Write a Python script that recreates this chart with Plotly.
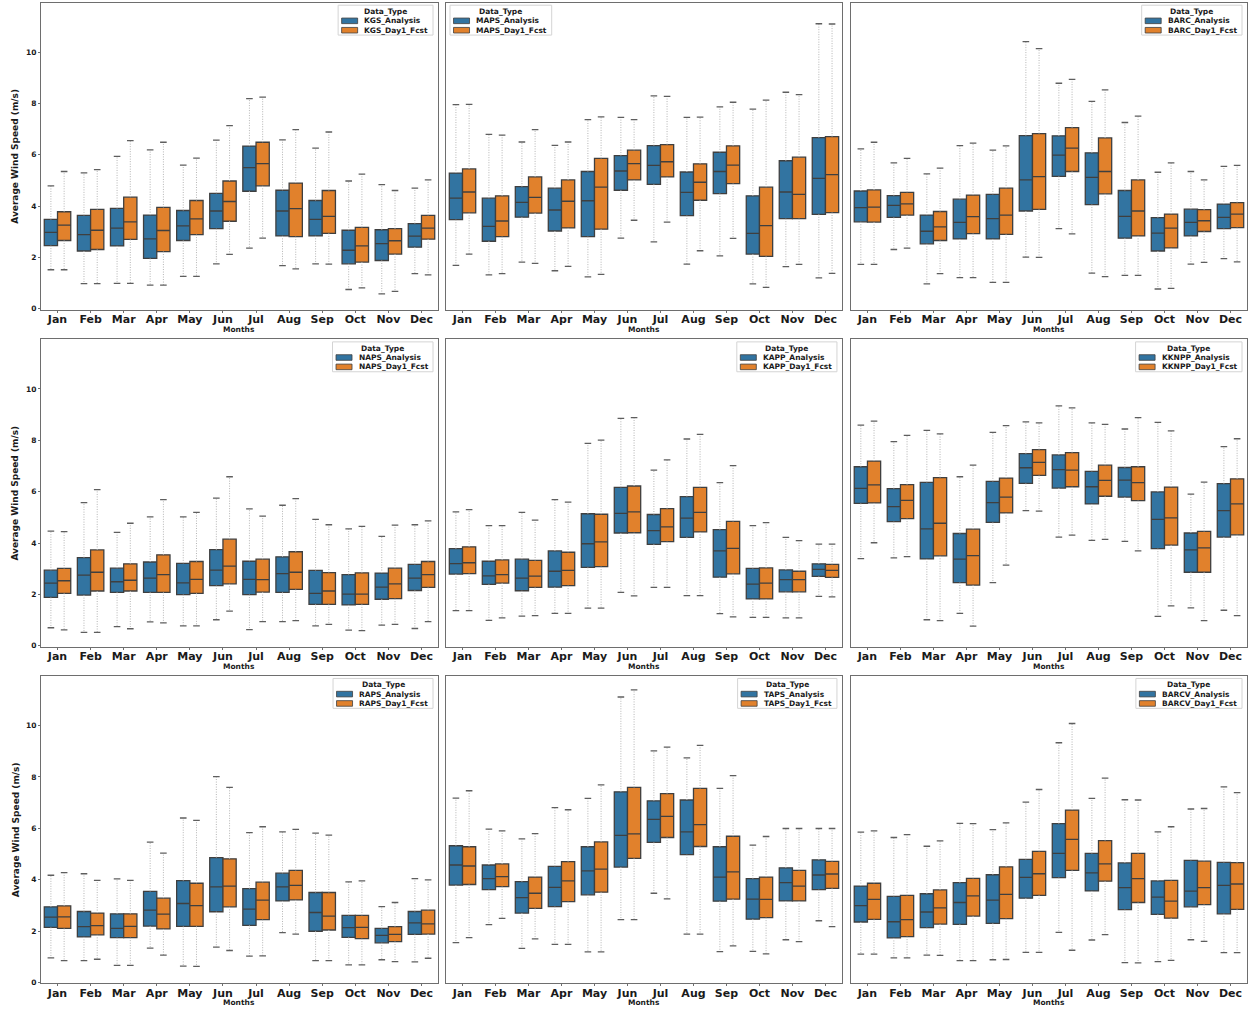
import plotly.graph_objects as go

W, H = 1249, 1012

months = ["Jan", "Feb", "Mar", "Apr", "May", "Jun",
          "Jul", "Aug", "Sep", "Oct", "Nov", "Dec"]

# Monthly box statistics of average wind speed (m/s) per site:
# upper / lower whisker ends, quartiles and median.
kgs_analysis = dict(
    upper=[4.79, 5.30, 5.94, 6.19, 5.60, 6.57, 8.19, 6.58, 6.26, 4.98, 4.84, 4.70],
    q3=[3.48, 3.64, 3.91, 3.65, 3.83, 4.50, 6.34, 4.62, 4.22, 3.06, 3.08, 3.32],
    median=[2.98, 2.89, 3.14, 2.72, 3.23, 3.81, 5.50, 3.81, 3.48, 2.28, 2.54, 2.83],
    q1=[2.46, 2.25, 2.45, 1.96, 2.66, 3.12, 4.58, 2.84, 2.84, 1.75, 1.88, 2.40],
    lower=[1.52, 0.98, 0.99, 0.92, 1.26, 1.75, 2.36, 1.68, 1.75, 0.75, 0.58, 1.37],
)
kgs_fcst = dict(
    upper=[5.35, 5.42, 6.55, 6.49, 5.87, 7.14, 8.25, 6.98, 6.89, 5.25, 4.61, 5.02],
    q3=[3.78, 3.87, 4.35, 3.95, 4.22, 4.98, 6.49, 4.90, 4.61, 3.17, 3.12, 3.64],
    median=[3.26, 3.06, 3.39, 3.05, 3.50, 4.18, 5.66, 3.90, 3.60, 2.45, 2.65, 3.14],
    q1=[2.66, 2.31, 2.70, 2.23, 2.89, 3.41, 4.79, 2.81, 2.94, 1.82, 2.13, 2.71],
    lower=[1.52, 0.98, 0.99, 0.92, 1.26, 2.12, 2.75, 1.55, 1.74, 0.81, 0.68, 1.32],
)
maps_analysis = dict(
    upper=[7.96, 6.80, 6.50, 6.37, 7.37, 7.46, 8.30, 7.46, 7.87, 7.78, 8.44, 11.11],
    q3=[5.29, 4.31, 4.76, 4.70, 5.35, 5.97, 6.36, 5.33, 6.10, 4.40, 5.77, 6.67],
    median=[4.31, 3.21, 4.15, 3.85, 4.21, 5.37, 5.59, 4.54, 5.35, 2.94, 4.55, 5.08],
    q1=[3.47, 2.63, 3.57, 3.03, 2.81, 4.62, 4.85, 3.63, 4.49, 2.13, 3.51, 3.68],
    lower=[1.69, 1.32, 1.82, 1.48, 1.24, 2.75, 2.61, 1.74, 2.06, 0.97, 1.64, 1.20],
)
maps_fcst = dict(
    upper=[7.97, 6.77, 6.98, 6.50, 7.48, 7.37, 8.28, 7.47, 8.05, 8.13, 8.35, 11.10],
    q3=[5.45, 4.40, 5.14, 5.02, 5.86, 6.18, 6.40, 5.65, 6.35, 4.74, 5.91, 6.71],
    median=[4.55, 3.42, 4.34, 4.19, 4.74, 5.66, 5.73, 4.93, 5.60, 3.24, 4.46, 5.23],
    q1=[3.74, 2.81, 3.73, 3.15, 3.10, 5.02, 5.14, 4.23, 4.88, 2.04, 3.51, 3.75],
    lower=[2.13, 1.37, 1.77, 1.65, 1.34, 3.45, 3.38, 2.26, 2.74, 0.83, 1.73, 1.38],
)
barc_analysis = dict(
    upper=[6.23, 5.69, 5.26, 6.36, 6.18, 10.41, 8.79, 8.08, 7.26, 5.32, 5.35, 5.55],
    q3=[4.59, 4.41, 3.65, 4.27, 4.46, 6.75, 6.74, 6.08, 4.61, 3.55, 3.88, 4.08],
    median=[3.94, 4.03, 3.02, 3.37, 3.51, 5.02, 5.99, 5.12, 3.60, 2.95, 3.37, 3.56],
    q1=[3.39, 3.56, 2.53, 2.72, 2.72, 3.81, 5.16, 4.06, 2.75, 2.25, 2.84, 3.12],
    lower=[1.73, 2.31, 0.97, 1.21, 1.03, 2.01, 3.12, 1.39, 1.30, 0.77, 1.74, 1.95],
)
barc_fcst = dict(
    upper=[6.49, 5.86, 5.48, 6.46, 6.35, 10.14, 8.94, 8.53, 7.51, 5.69, 5.02, 5.59],
    q3=[4.63, 4.54, 3.79, 4.43, 4.70, 6.83, 7.06, 6.66, 5.02, 3.69, 3.86, 4.14],
    median=[3.96, 4.09, 3.19, 3.59, 3.65, 5.15, 6.26, 5.35, 3.81, 3.14, 3.43, 3.69],
    q1=[3.38, 3.65, 2.66, 2.93, 2.90, 3.87, 5.35, 4.48, 2.84, 2.37, 3.01, 3.16],
    lower=[1.73, 2.36, 1.37, 1.21, 1.03, 2.00, 2.92, 1.25, 1.30, 0.79, 1.81, 1.83],
)
naps_analysis = dict(
    upper=[4.46, 5.57, 4.41, 5.02, 5.02, 5.75, 5.33, 5.47, 4.92, 4.55, 4.26, 4.71],
    q3=[2.94, 3.43, 3.02, 3.26, 3.21, 3.74, 3.29, 3.46, 2.93, 2.77, 2.83, 3.17],
    median=[2.44, 2.75, 2.49, 2.63, 2.45, 2.94, 2.58, 2.81, 2.04, 2.01, 2.28, 2.63],
    q1=[1.88, 1.97, 2.08, 2.08, 1.99, 2.34, 1.99, 2.08, 1.61, 1.59, 1.81, 2.15],
    lower=[0.70, 0.52, 0.74, 0.93, 0.77, 1.01, 0.63, 0.94, 0.77, 0.61, 0.80, 0.67],
)
naps_fcst = dict(
    upper=[4.44, 6.08, 4.77, 5.69, 5.19, 6.58, 5.05, 5.73, 4.71, 4.65, 4.70, 4.86],
    q3=[3.01, 3.73, 3.19, 3.54, 3.28, 4.15, 3.37, 3.66, 2.85, 2.84, 3.02, 3.28],
    median=[2.53, 2.86, 2.55, 2.77, 2.58, 3.10, 2.57, 2.86, 2.13, 2.01, 2.41, 2.77],
    q1=[2.04, 2.13, 2.13, 2.08, 2.04, 2.41, 2.09, 2.19, 1.61, 1.61, 1.83, 2.27],
    lower=[0.62, 0.52, 0.66, 0.89, 0.77, 1.35, 0.94, 0.98, 0.83, 0.59, 0.83, 0.94],
)
kapp_analysis = dict(
    upper=[5.21, 4.68, 5.19, 5.69, 7.88, 8.85, 6.84, 8.05, 6.35, 4.68, 4.22, 3.96],
    q3=[3.78, 3.29, 3.37, 3.69, 5.14, 6.17, 5.11, 5.81, 4.52, 3.01, 2.95, 3.19],
    median=[3.20, 2.72, 2.63, 2.90, 3.97, 5.15, 4.48, 4.97, 3.69, 2.40, 2.57, 2.97],
    q1=[2.79, 2.39, 2.14, 2.28, 3.05, 4.39, 3.95, 4.22, 2.67, 1.82, 2.10, 2.70],
    lower=[1.37, 0.99, 1.15, 1.26, 1.46, 2.08, 2.27, 1.95, 1.25, 1.10, 1.08, 1.92],
)
kapp_fcst = dict(
    upper=[5.30, 4.68, 4.89, 5.59, 8.01, 8.88, 7.24, 8.23, 7.01, 4.79, 4.09, 3.96],
    q3=[3.85, 3.34, 3.32, 3.64, 5.12, 6.22, 5.34, 6.17, 4.84, 3.03, 2.90, 3.17],
    median=[3.23, 2.77, 2.71, 2.93, 4.04, 5.21, 4.63, 5.19, 3.79, 2.44, 2.57, 2.93],
    q1=[2.81, 2.44, 2.27, 2.34, 3.08, 4.40, 4.05, 4.43, 2.80, 1.82, 2.10, 2.66],
    lower=[1.37, 1.08, 1.17, 1.26, 1.46, 1.94, 2.27, 1.95, 1.12, 1.10, 1.08, 1.90],
)
kknpp_analysis = dict(
    upper=[8.59, 7.95, 8.39, 6.58, 8.31, 8.72, 9.34, 8.68, 8.44, 8.70, 5.90, 7.75],
    q3=[6.97, 6.12, 6.36, 4.37, 6.40, 7.48, 7.43, 6.79, 6.94, 5.99, 4.39, 6.31],
    median=[6.13, 5.42, 4.55, 3.37, 5.57, 6.93, 6.86, 6.19, 6.45, 4.92, 3.73, 5.26],
    q1=[5.54, 4.83, 3.38, 2.46, 4.80, 6.32, 6.14, 5.52, 5.79, 3.78, 2.86, 4.23],
    lower=[3.39, 3.42, 1.01, 1.26, 2.46, 5.26, 4.23, 4.10, 4.06, 1.14, 1.47, 1.38],
)
kknpp_fcst = dict(
    upper=[8.75, 8.19, 8.25, 7.03, 8.57, 8.68, 9.26, 8.62, 8.88, 8.37, 6.37, 8.06],
    q3=[7.19, 6.27, 6.55, 4.54, 6.53, 7.64, 7.52, 7.03, 6.97, 6.18, 4.45, 6.50],
    median=[6.26, 5.66, 4.77, 3.51, 5.79, 7.14, 6.84, 6.44, 6.35, 4.98, 3.81, 5.52],
    q1=[5.56, 4.95, 3.50, 2.36, 5.17, 6.63, 6.19, 5.82, 5.65, 3.92, 2.86, 4.32],
    lower=[4.01, 3.47, 0.98, 0.76, 3.14, 5.24, 4.31, 4.14, 3.69, 1.55, 0.98, 1.17],
)
raps_analysis = dict(
    upper=[4.17, 4.23, 4.03, 5.46, 6.40, 8.01, 5.83, 5.86, 5.81, 3.91, 2.95, 4.04],
    q3=[2.94, 2.76, 2.67, 3.54, 3.96, 4.86, 3.65, 4.25, 3.50, 2.61, 2.10, 2.76],
    median=[2.54, 2.17, 2.10, 2.81, 3.07, 3.72, 2.85, 3.72, 2.72, 2.13, 1.83, 2.32],
    q1=[2.14, 1.77, 1.74, 2.19, 2.18, 2.75, 2.22, 3.17, 1.99, 1.75, 1.54, 1.87],
    lower=[0.95, 0.85, 0.66, 1.33, 0.63, 1.37, 1.02, 1.94, 0.85, 0.68, 0.88, 0.80],
)
raps_fcst = dict(
    upper=[4.27, 3.97, 3.97, 5.03, 6.31, 7.59, 6.06, 5.96, 5.73, 3.95, 3.11, 3.99],
    q3=[2.98, 2.70, 2.67, 3.28, 3.86, 4.81, 3.90, 4.36, 3.50, 2.61, 2.17, 2.81],
    median=[2.55, 2.21, 2.18, 2.66, 2.99, 3.75, 3.20, 3.78, 2.58, 2.14, 1.87, 2.28],
    q1=[2.10, 1.85, 1.74, 2.08, 2.18, 2.94, 2.44, 3.21, 2.04, 1.70, 1.59, 1.88],
    lower=[0.85, 0.90, 0.66, 1.06, 0.62, 1.24, 1.03, 1.88, 0.85, 0.68, 0.81, 0.94],
)
taps_analysis = dict(
    upper=[7.17, 5.97, 5.59, 6.80, 7.16, 11.11, 9.01, 8.74, 7.55, 5.34, 5.99, 5.99],
    q3=[5.32, 4.57, 3.92, 4.52, 5.28, 7.42, 7.07, 7.10, 5.28, 4.04, 4.46, 4.77],
    median=[4.57, 4.04, 3.30, 3.70, 4.34, 5.72, 6.35, 5.86, 4.10, 3.24, 3.88, 4.18],
    q1=[3.79, 3.61, 2.70, 2.95, 3.41, 4.49, 5.45, 4.97, 3.16, 2.46, 3.17, 3.61],
    lower=[1.55, 2.25, 1.32, 1.48, 1.19, 2.44, 3.47, 1.88, 1.20, 1.21, 1.66, 2.40],
)
taps_fcst = dict(
    upper=[7.46, 5.90, 5.79, 6.72, 7.69, 11.39, 9.16, 9.23, 8.05, 5.68, 5.99, 5.99],
    q3=[5.28, 4.61, 4.10, 4.70, 5.47, 7.59, 7.35, 7.55, 5.69, 4.10, 4.36, 4.71],
    median=[4.53, 4.12, 3.47, 3.95, 4.41, 5.78, 6.46, 6.14, 4.30, 3.23, 3.75, 4.22],
    q1=[3.81, 3.73, 2.88, 3.14, 3.51, 4.83, 5.64, 5.29, 3.24, 2.52, 3.17, 3.66],
    lower=[1.74, 2.49, 1.69, 1.48, 1.19, 2.44, 3.25, 1.88, 1.42, 1.11, 1.59, 2.17],
)
barcv_analysis = dict(
    upper=[5.85, 5.64, 5.30, 6.19, 5.95, 7.02, 9.33, 7.16, 7.11, 5.86, 6.75, 7.61],
    q3=[3.75, 3.35, 3.45, 3.88, 4.19, 4.79, 6.18, 5.02, 4.65, 3.95, 4.75, 4.67],
    median=[2.99, 2.36, 2.74, 3.11, 3.20, 4.09, 5.02, 4.26, 3.69, 3.32, 3.55, 3.78],
    q1=[2.35, 1.73, 2.13, 2.26, 2.30, 3.28, 4.08, 3.56, 2.83, 2.65, 2.94, 2.67],
    lower=[1.10, 0.95, 1.06, 0.85, 0.88, 1.17, 1.95, 1.65, 0.77, 0.81, 1.66, 1.16],
)
barcv_fcst = dict(
    upper=[5.90, 5.75, 5.51, 6.18, 6.21, 7.51, 10.08, 7.95, 7.10, 6.06, 6.77, 7.39],
    q3=[3.86, 3.39, 3.60, 4.05, 4.50, 5.10, 6.71, 5.52, 5.02, 3.97, 4.72, 4.66],
    median=[3.23, 2.44, 2.90, 3.37, 3.43, 4.23, 5.57, 4.61, 4.04, 3.16, 3.69, 3.83],
    q1=[2.45, 1.78, 2.27, 2.58, 2.48, 3.39, 4.36, 3.94, 3.11, 2.50, 3.03, 2.84],
    lower=[1.10, 0.95, 1.05, 0.85, 0.89, 1.17, 1.25, 1.86, 0.76, 0.86, 1.60, 1.16],
)

sites = [
    ("KGS", kgs_analysis, kgs_fcst),
    ("MAPS", maps_analysis, maps_fcst),
    ("BARC", barc_analysis, barc_fcst),
    ("NAPS", naps_analysis, naps_fcst),
    ("KAPP", kapp_analysis, kapp_fcst),
    ("KKNPP", kknpp_analysis, kknpp_fcst),
    ("RAPS", raps_analysis, raps_fcst),
    ("TAPS", taps_analysis, taps_fcst),
    ("BARCV", barcv_analysis, barcv_fcst),
]

BLUE = "#3274a1"
ORANGE = "#e1812c"
EDGE = "#3f3f3f"
WHISK = "#b4b4b4"
CAP = "#5e5e5e"
FRAME = "#6e6e6e"
FONT = "DejaVu Sans"

col_dom = [(0.0328, 0.3507), (0.3571, 0.6741), (0.6813, 0.9984)]
row_dom = [(0.6927, 0.9973), (0.3584, 0.6633), (0.0244, 0.3294)]

# DejaVu Sans Bold advance widths (em) for sizing the legend frames
CHAR_W = {"A": .774, "B": .762, "C": .734, "D": .830, "F": .683, "G": .821,
          "K": .775, "M": .995, "N": .837, "P": .733, "R": .770, "S": .720,
          "T": .682, "V": .774, "a": .675, "c": .593, "e": .678, "i": .343,
          "l": .343, "n": .712, "p": .716, "s": .595, "t": .478, "y": .652,
          "1": .696, "_": .500}


def text_width(s, size):
    return sum(CHAR_W.get(ch, 0.7) for ch in s) * size


fig = go.Figure()
shapes, annotations = [], []
BOX_W = 0.4
LEG_FS = 7.5

for k, (site, ana, fc) in enumerate(sites):
    r, c = divmod(k, 3)
    sfx = "" if k == 0 else str(k + 1)
    xa, ya = "x" + sfx, "y" + sfx

    for stats, color, off in ((ana, BLUE, -0.2), (fc, ORANGE, 0.2)):
        xs = [i + off for i in range(len(months))]
        # dotted whiskers and their end caps
        wx, wy, cx, cy = [], [], [], []
        for i, x in enumerate(xs):
            wx += [x, x, None, x, x, None]
            wy += [stats["q3"][i], stats["upper"][i], None,
                   stats["q1"][i], stats["lower"][i], None]
            cx += [x - BOX_W / 4, x + BOX_W / 4, None] * 2
            cy += [stats["upper"][i], stats["upper"][i], None,
                   stats["lower"][i], stats["lower"][i], None]
        fig.add_trace(go.Scatter(x=wx, y=wy, mode="lines", xaxis=xa, yaxis=ya,
                                 line=dict(color=WHISK, width=1, dash="1px,1.5px"),
                                 showlegend=False, hoverinfo="skip"))
        fig.add_trace(go.Scatter(x=cx, y=cy, mode="lines", xaxis=xa, yaxis=ya,
                                 line=dict(color=CAP, width=1.3),
                                 showlegend=False, hoverinfo="skip"))
        fig.add_trace(go.Box(
            x=xs, q1=stats["q1"], median=stats["median"], q3=stats["q3"],
            lowerfence=stats["q1"], upperfence=stats["q3"],
            width=BOX_W, fillcolor=color, line=dict(color=EDGE, width=1.3),
            whiskerwidth=0, boxpoints=False, xaxis=xa, yaxis=ya,
            showlegend=False))

    fig.layout["xaxis" + sfx] = dict(
        domain=col_dom[c], anchor=ya, range=[-0.5, 11.5],
        tickvals=list(range(12)), ticktext=months,
        tickfont=dict(family=FONT, size=11, color="#1a1a1a", weight="bold"),
        showline=True, mirror=True, linecolor=FRAME, linewidth=1,
        ticks="outside", ticklen=2, tickcolor=FRAME, ticklabelstandoff=-3,
        showgrid=False, zeroline=False)
    fig.layout["yaxis" + sfx] = dict(
        domain=row_dom[r], anchor=xa, range=[-0.04, 11.93],
        tickvals=[0, 2, 4, 6, 8, 10], showticklabels=(c == 0),
        tickfont=dict(family=FONT, size=7.5, color="#1a1a1a", weight="bold"),
        ticks="outside" if c == 0 else "", ticklen=2, tickcolor=FRAME,
        showline=True, mirror=True, linecolor=FRAME, linewidth=1,
        showgrid=False, zeroline=False)

    # panel pixel bounds
    left, right = col_dom[c][0] * W, col_dom[c][1] * W
    top, bottom = (1 - row_dom[r][1]) * H, (1 - row_dom[r][0]) * H

    annotations.append(dict(
        text="<b>Months</b>", x=(left + right) / 2 / W, y=1 - (bottom + 19.5) / H,
        xref="paper", yref="paper", showarrow=False, xanchor="center",
        yanchor="middle", font=dict(family=FONT, size=7.5, color="#1a1a1a")))
    if c == 0:
        annotations.append(dict(
            text="<b>Average Wind Speed (m/s)</b>", x=15.5 / W,
            y=1 - (top + bottom) / 2 / H, xref="paper", yref="paper",
            showarrow=False, textangle=-90, xanchor="center", yanchor="middle",
            font=dict(family=FONT, size=9, color="#1a1a1a")))

    # legend block
    labels = [f"{site}_Analysis", f"{site}_Day1_Fcst"]
    lw = max(text_width(s, LEG_FS) for s in labels) + 31
    if site == "MAPS":
        lx0 = left + 4
    else:
        lx0 = right - 5 - lw
    ly0 = top + 2.5
    shapes.append(dict(type="rect", xref="paper", yref="paper",
                       x0=lx0 / W, x1=(lx0 + lw) / W,
                       y0=1 - ly0 / H, y1=1 - (ly0 + 30) / H,
                       line=dict(color="#d4d4d4", width=1),
                       fillcolor="rgba(255,255,255,0.85)", layer="above"))
    annotations.append(dict(
        text="<b>Data_Type</b>", x=(lx0 + lw / 2) / W, y=1 - (ly0 + 6.3) / H,
        xref="paper", yref="paper", showarrow=False, xanchor="center",
        yanchor="middle", font=dict(family=FONT, size=LEG_FS, color="#1a1a1a")))
    for j, (lab, color) in enumerate(zip(labels, (BLUE, ORANGE))):
        yc = ly0 + 15.7 + j * 9.4
        shapes.append(dict(type="rect", xref="paper", yref="paper",
                           x0=(lx0 + 3.5) / W, x1=(lx0 + 19.5) / W,
                           y0=1 - (yc - 2.8) / H, y1=1 - (yc + 2.8) / H,
                           line=dict(color=EDGE, width=0.8), fillcolor=color,
                           layer="above"))
        annotations.append(dict(
            text=f"<b>{lab}</b>", x=(lx0 + 24) / W, y=1 - yc / H,
            xref="paper", yref="paper", showarrow=False, xanchor="left",
            yanchor="middle", font=dict(family=FONT, size=LEG_FS, color="#1a1a1a")))

fig.update_layout(
    width=W, height=H, margin=dict(l=0, r=0, t=0, b=0),
    paper_bgcolor="white", plot_bgcolor="white",
    boxmode="overlay", showlegend=False,
    shapes=shapes, annotations=annotations,
    font=dict(family=FONT, color="#1a1a1a"),
)

fig.write_html("out.html")
